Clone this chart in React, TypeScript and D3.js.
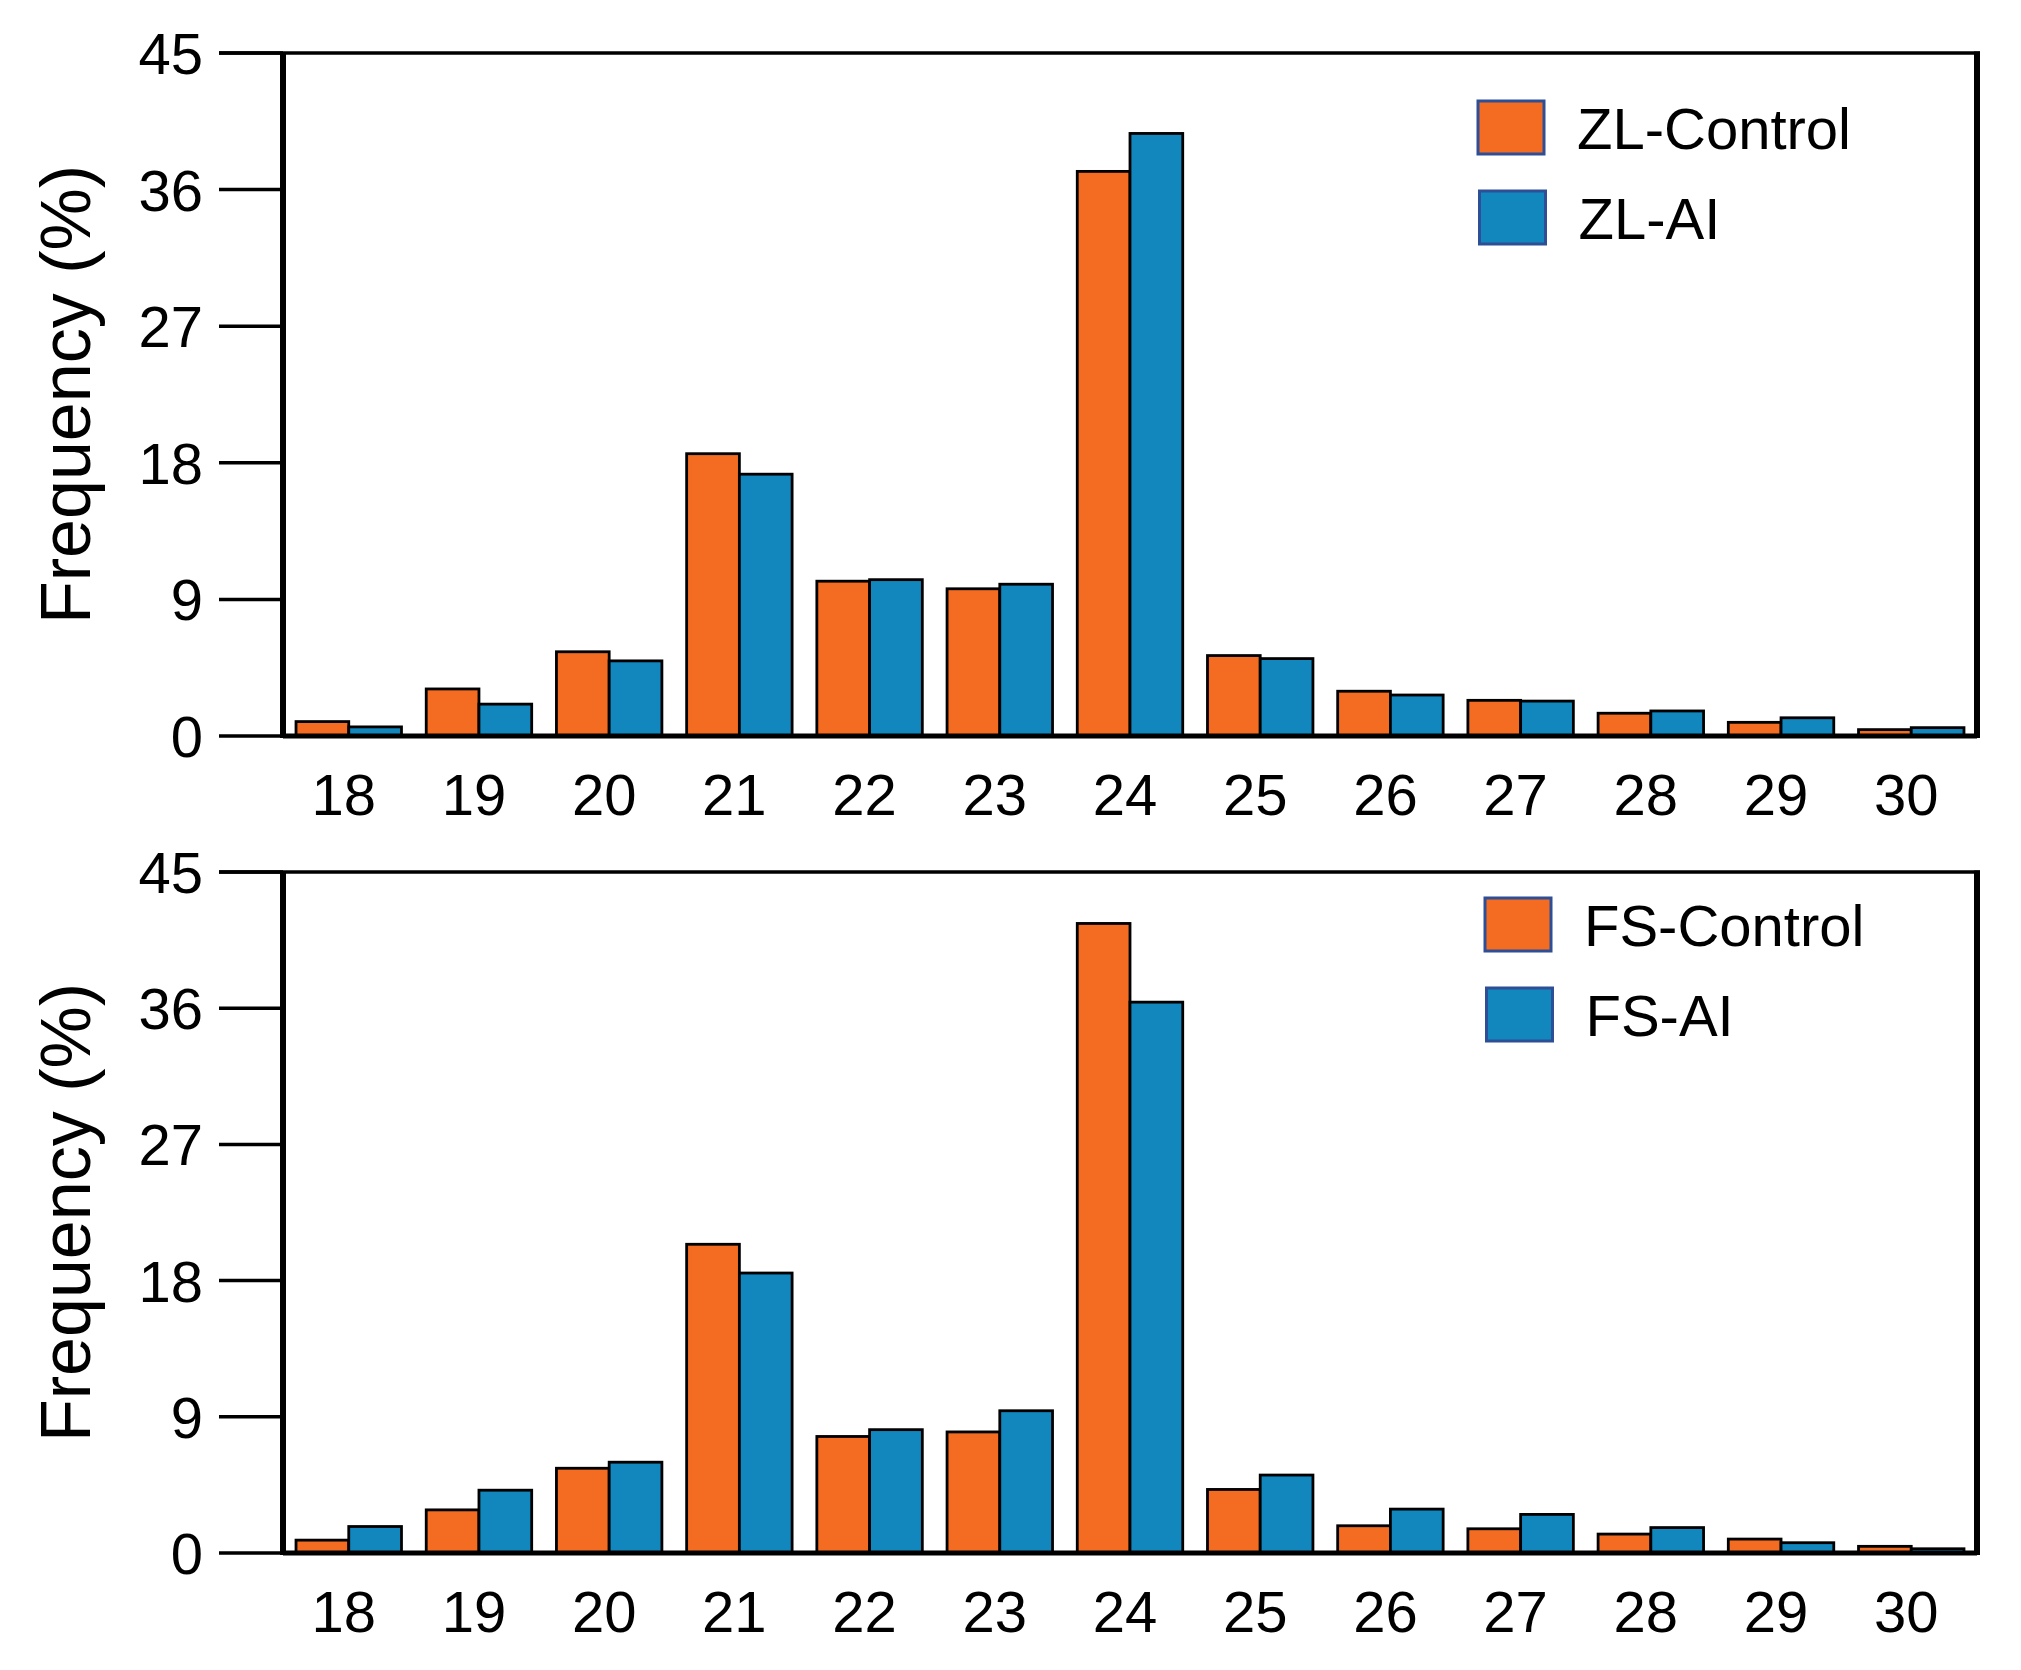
import * as d3 from "d3"

// percent per length class
const categories = ["18", "19", "20", "21", "22", "23", "24", "25", "26", "27", "28", "29", "30"]
const zlControl = [0.95, 3.1, 5.55, 18.6, 10.2, 9.7, 37.2, 5.3, 2.95, 2.35, 1.5, 0.9, 0.42]
const zlAI = [0.6, 2.1, 4.95, 17.25, 10.3, 10.0, 39.7, 5.1, 2.7, 2.3, 1.65, 1.2, 0.55]
const fsControl = [0.85, 2.85, 5.6, 20.4, 7.7, 8.0, 41.6, 4.2, 1.8, 1.6, 1.25, 0.92, 0.44]
const fsAI = [1.75, 4.15, 6.0, 18.5, 8.15, 9.4, 36.4, 5.15, 2.9, 2.55, 1.68, 0.68, 0.28]
const yTicks = [0, 9, 18, 27, 36, 45]

const ORANGE = "#f36c21"
const BLUE = "#1187be"
const FONT = "'Liberation Sans', Arial, sans-serif"

const W = 2021
const H = 1670
const LEFT = 283
const RIGHT = 1977

interface PanelProps {
    top: number
    bottom: number
    control: number[]
    ai: number[]
    names: string[]
    legendX: number
    legendY: number
}

const Panel = ({ top, bottom, control, ai, names, legendX, legendY }: PanelProps) => {
    const x = d3.scaleBand<string>().domain(categories).range([LEFT, RIGHT]).paddingInner(0.19).paddingOuter(0.1)
    const inner = d3.scaleBand<string>().domain(["c", "a"]).range([0, x.bandwidth()])
    const y = d3.scaleLinear().domain([0, 45]).range([bottom, top])
    const series = [
        { key: "c", values: control, color: ORANGE },
        { key: "a", values: ai, color: BLUE },
    ]

    return (
        <g>
            {series.map((s) =>
                s.values.map((v, i) => (
                    <rect
                        key={s.key + i}
                        x={(x(categories[i]) ?? 0) + (inner(s.key) ?? 0)}
                        y={y(v)}
                        width={inner.bandwidth()}
                        height={y(0) - y(v)}
                        fill={s.color}
                        stroke="#000"
                        strokeWidth={2.8}
                    />
                ))
            )}

            {/* frame: thick left/right, thin top */}
            <line x1={219} x2={RIGHT + 3} y1={top} y2={top} stroke="#000" strokeWidth={3.5} />
            <line x1={LEFT} x2={LEFT} y1={top} y2={bottom + 2} stroke="#000" strokeWidth={6} />
            <line x1={RIGHT} x2={RIGHT} y1={top - 1.5} y2={bottom + 2} stroke="#000" strokeWidth={6} />
            <line x1={LEFT} x2={RIGHT} y1={bottom} y2={bottom} stroke="#000" strokeWidth={5} />

            {yTicks.map((t) => (
                <g key={t}>
                    <line x1={219} x2={LEFT} y1={y(t)} y2={y(t)} stroke="#000" strokeWidth={3.5} />
                    <text x={203} y={y(t) + 21} textAnchor="end" fontSize={58} fontFamily={FONT}>
                        {t}
                    </text>
                </g>
            ))}

            {categories.map((c) => (
                <text
                    key={c}
                    x={(x(c) ?? 0) + x.bandwidth() / 2 - 5}
                    y={bottom + 79}
                    textAnchor="middle"
                    fontSize={58}
                    fontFamily={FONT}
                >
                    {c}
                </text>
            ))}

            <text
                transform={`translate(90, ${(top + bottom) / 2}) rotate(-90)`}
                textAnchor="middle"
                fontSize={70}
                fontFamily={FONT}
            >
                Frequency (%)
            </text>

            {series.map((s, i) => (
                <g key={s.key} transform={`translate(${legendX + i * 1.5}, ${legendY + i * 90})`}>
                    <rect x={0} y={0} width={66} height={53} fill={s.color} stroke="#2e4f95" strokeWidth={3} />
                    <text x={99} y={48} fontSize={58} fontFamily={FONT}>
                        {names[i]}
                    </text>
                </g>
            ))}
        </g>
    )
}

export default function App() {
    return (
        <svg
            width={W}
            height={H}
            style={{ position: "absolute", left: 0, top: 0, background: "#fff" }}
        >
            <Panel
                top={53}
                bottom={736}
                control={zlControl}
                ai={zlAI}
                names={["ZL-Control", "ZL-AI"]}
                legendX={1478}
                legendY={101}
            />
            <Panel
                top={872}
                bottom={1553}
                control={fsControl}
                ai={fsAI}
                names={["FS-Control", "FS-AI"]}
                legendX={1485}
                legendY={898}
            />
        </svg>
    )
}
